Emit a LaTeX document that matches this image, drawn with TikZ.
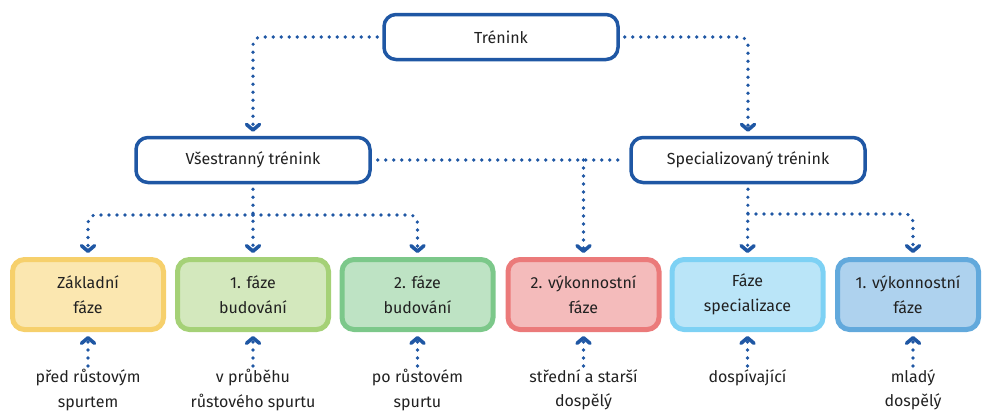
\documentclass[tikz,border=0pt]{standalone}
\usepackage{fontspec}
\setmainfont{Fira Sans}
\usetikzlibrary{arrows.meta}
\definecolor{tblue}{HTML}{1F57A4}
\definecolor{yelfill}{HTML}{FBE7B0}
\definecolor{yeldraw}{HTML}{F6D06C}
\definecolor{lgrfill}{HTML}{D3E8BD}
\definecolor{lgrdraw}{HTML}{A5D177}
\definecolor{grfill}{HTML}{BEE3C4}
\definecolor{grdraw}{HTML}{7CC88A}
\definecolor{redfill}{HTML}{F4BBBB}
\definecolor{reddraw}{HTML}{EB7A7A}
\definecolor{cyfill}{HTML}{BAE5F8}
\definecolor{cydraw}{HTML}{7DD1F4}
\definecolor{bfill}{HTML}{AED2EE}
\definecolor{bdraw}{HTML}{62A9DC}
\begin{document}
\begin{tikzpicture}[x=1pt,y=-1pt,
		every node/.style={font=\fontsize{16}{24.5}\selectfont, text=black!87},
		topbox/.style={draw=tblue, fill=white, line width=3.5pt, rounded corners=12pt,
			minimum width=234pt, minimum height=45pt},
		phase/.style={line width=5pt, rounded corners=12pt, minimum width=151pt,
			minimum height=70pt, align=center},
		age/.style={align=center, anchor=north, inner sep=0pt},
		link/.style={tblue, line width=3.6pt, line cap=round, dash pattern=on 0pt off 8pt,
			rounded corners=8pt},
		arr/.style={link, -{Straight Barb[length=5.5pt,width=13pt,round]}, shorten >=4pt}
	]
	\useasboundingbox (0,0) rectangle (983,410);
	% top level
	\node[topbox] (train) at (501,37) {Trénink};
	\node[topbox] (vse) at (253,160) {Všestranný trénink};
	\node[topbox] (spec) at (748,160) {Specializovaný trénink};
	% phases
	\node[phase, draw=yeldraw, fill=yelfill] (b1) at (88,294.5) {Základní\\fáze};
	\node[phase, draw=lgrdraw, fill=lgrfill] (b2) at (253,294.5) {1. fáze\\budování};
	\node[phase, draw=grdraw, fill=grfill] (b3) at (417.5,294.5) {2. fáze\\budování};
	\node[phase, draw=reddraw, fill=redfill] (b4) at (583.5,294.5) {2. výkonnostní\\fáze};
	\node[phase, draw=cydraw, fill=cyfill] (b5) at (747.5,294.5) {Fáze\\specializace};
	\node[phase, draw=bdraw, fill=bfill, minimum width=141pt] (b6) at (908,294.5) {1. výkonnostní\\fáze};
	% ages
	\node[age] (l1) at (88,369) {před růstovým\\spurtem};
	\node[age] (l2) at (253,369) {v průběhu\\růstového spurtu};
	\node[age] (l3) at (417.5,369) {po růstovém\\spurtu};
	\node[age] (l4) at (583.5,369) {střední a starší\\dospělý};
	\node[age] (l5) at (747.5,369) {dospívající};
	\node[age] (l6) at (913,369) {mladý\\dospělý};
	\coordinate (vsplit) at (253,215);
	\coordinate (ssplit) at (748,214);
	% connectors
	\draw[arr, shorten <=5pt] (train.west) -| (vse.north);
	\draw[arr, shorten <=5pt] (train.east) -| (spec.north);
	\draw[link, shorten <=6pt, shorten >=6pt] (vse.east) -- (spec.west);
	\draw[arr] (b4.north |- vse.east) -- (b4.north);
	\draw[arr, shorten <=5pt] (vse.south) -- (b2.north);
	\draw[arr] (vsplit) -| (b1.north);
	\draw[arr] (vsplit) -| (b3.north);
	\draw[arr, shorten <=5pt] (spec.south) -- (b5.north);
	\draw[arr] (ssplit) -| ([xshift=5pt]b6.north);
	\foreach \i in {1,...,6}
		\draw[arr, shorten <=3pt] (l\i.north) -- (b\i.south -| l\i.north);
\end{tikzpicture}
\end{document}
